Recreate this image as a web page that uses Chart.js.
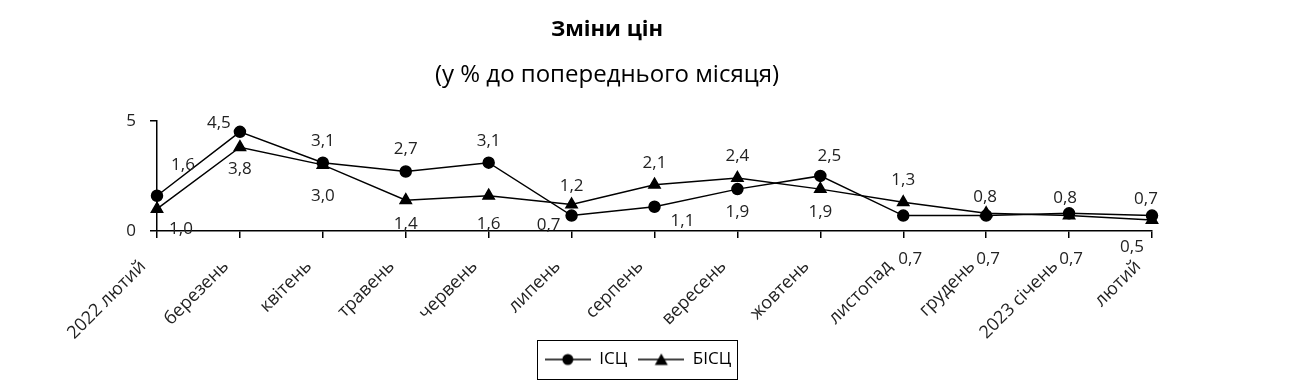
<!DOCTYPE html>
<html lang="uk">
<head>
<meta charset="UTF-8">
<title>Зміни цін</title>
<script src="https://cdn.jsdelivr.net/npm/chart.js"></script>
<style>
    body { margin: 0; background: #fff; }
    #wrap { width: 1293px; height: 392px; }
</style>
</head>
<body>
<div id="wrap"><canvas id="grafico" width="1293" height="392"></canvas></div>
<script>
    // dados
    const meses = ['2022 лютий', 'березень', 'квітень', 'травень', 'червень', 'липень', 'серпень',
        'вересень', 'жовтень', 'листопад', 'грудень', '2023 січень', 'лютий'];
    const isc = [1.6, 4.5, 3.1, 2.7, 3.1, 0.7, 1.1, 1.9, 2.5, 0.7, 0.7, 0.8, 0.7];
    const bisc = [1.0, 3.8, 3.0, 1.4, 1.6, 1.2, 2.1, 2.4, 1.9, 1.3, 0.8, 0.7, 0.5];
    const yTicks = [0, 5];

    // onde fica cada rotulo em relacao ao ponto (dx, dy)
    const posIsc = [[26, -31], [-21, -9], [0, -22], [0, -22], [0, -22], [-23, 10], [28, 14],
        [0, 23], [9, -20], [7, 44], [2, 44], [-4, -15], [-6, -16]];
    const posBisc = [[24, 20], [0, 22], [0, 31], [0, 24], [0, 28], [0, -18], [0, -22],
        [0, -22], [0, 23], [0, -22], [-1, -16], [2, 44], [-20, 27]];

    const fonte = '"Open Sans", "Noto Sans", sans-serif';
    const cor = '#222';
    const centroTitulo = 607;
    const centroLegenda = 638;

    function iconeLegenda(tipo) {
        const c = document.createElement('canvas');
        c.width = 46; c.height = 14;
        const g = c.getContext('2d');
        g.strokeStyle = '#000';
        g.fillStyle = '#000';
        g.lineWidth = 1.5;
        g.beginPath(); g.moveTo(0, 7); g.lineTo(46, 7); g.stroke();
        g.beginPath();
        if (tipo == 'circle') {
            g.arc(23, 7, 5.5, 0, Math.PI * 2);
        } else {
            g.moveTo(23, 1); g.lineTo(29.5, 12.5); g.lineTo(16.5, 12.5); g.closePath();
        }
        g.fill();
        return c;
    }
    const icones = [iconeLegenda('circle'), iconeLegenda('triangle')];

    const rotulos = {
        id: 'rotulos',
        afterDatasetsDraw(chart) {
            const ctx = chart.ctx;
            ctx.save();
            ctx.font = '17px ' + fonte;
            ctx.fillStyle = cor;
            ctx.textAlign = 'center';
            ctx.textBaseline = 'middle';
            const posicoes = [posIsc, posBisc];
            chart.data.datasets.forEach((ds, d) => {
                chart.getDatasetMeta(d).data.forEach((pt, i) => {
                    const p = posicoes[d][i];
                    const txt = ds.data[i].toFixed(1).replace('.', ',');
                    ctx.fillText(txt, pt.x + p[0], pt.y + p[1]);
                });
            });
            ctx.restore();
        }
    };

    // titulo e legenda nao ficam no centro do canvas no original
    const deslocar = {
        id: 'deslocar',
        afterUpdate(chart) {
            chart.boxes.forEach(b => {
                if (b === chart.legend) {
                    const d = centroLegenda - (b.left + b.right) / 2;
                    b.left += d; b.right += d;
                    b.legendHitBoxes.forEach(h => { h.left += d; });
                } else if (b.options && typeof b.options.text === 'string') {
                    const d = centroTitulo - (b.left + b.right) / 2;
                    b.left += d; b.right += d;
                }
            });
        }
    };

    const moldura = {
        id: 'moldura',
        afterDraw(chart) {
            const caixas = chart.legend.legendHitBoxes;
            if (!caixas || !caixas.length) return;
            let l = Infinity, r = -Infinity, t = Infinity, b = -Infinity;
            caixas.forEach(h => {
                l = Math.min(l, h.left); r = Math.max(r, h.left + h.width);
                t = Math.min(t, h.top); b = Math.max(b, h.top + h.height);
            });
            const ctx = chart.ctx;
            ctx.save();
            ctx.strokeStyle = '#000';
            ctx.lineWidth = 1;
            ctx.strokeRect(Math.round(l - 8) + 0.5, Math.round(t - 11) + 0.5, Math.round(r - l + 14), Math.round(b - t + 22));
            ctx.restore();
        }
    };

    new Chart(document.getElementById('grafico'), {
        type: 'line',
        data: {
            labels: meses,
            datasets: [{
                label: 'ІСЦ',
                data: isc,
                borderColor: '#000',
                backgroundColor: '#000',
                borderWidth: 1.5,
                pointStyle: 'circle',
                pointRadius: 5.5,
                pointHoverRadius: 5.5,
                tension: 0
            }, {
                label: 'БІСЦ',
                data: bisc,
                borderColor: '#000',
                backgroundColor: '#000',
                borderWidth: 1.5,
                pointStyle: 'triangle',
                pointRadius: 6.5,
                pointHoverRadius: 6.5,
                tension: 0
            }]
        },
        options: {
            responsive: false,
            animation: false,
            events: [],
            layout: { padding: { left: 0, right: 141, top: 0, bottom: 14 } },
            plugins: {
                title: {
                    display: true,
                    text: 'Зміни цін',
                    color: '#000',
                    font: { family: fonte, size: 22, weight: 'bold' },
                    padding: { top: 17, bottom: 17 }
                },
                subtitle: {
                    display: true,
                    text: '(у % до попереднього місяця)',
                    color: '#000',
                    font: { family: fonte, size: 24 },
                    padding: { top: 0, bottom: 31.6 }
                },
                legend: {
                    position: 'bottom',
                    labels: {
                        color: '#000',
                        font: { family: fonte, size: 17 },
                        usePointStyle: true,
                        pointStyleWidth: 46,
                        boxHeight: 14,
                        padding: 11,
                        generateLabels(chart) {
                            return chart.data.datasets.map((ds, i) => ({
                                text: ds.label,
                                pointStyle: icones[i],
                                fillStyle: '#000',
                                strokeStyle: '#000',
                                lineWidth: 0,
                                hidden: false,
                                datasetIndex: i,
                                fontColor: '#000'
                            }));
                        }
                    }
                },
                tooltip: { enabled: false }
            },
            scales: {
                x: {
                    offset: false,
                    afterFit(s) { s.height = 109; },
                    border: { color: '#000', width: 1.5 },
                    grid: { display: true, drawOnChartArea: false, color: '#000', lineWidth: 1.5, tickLength: 7 },
                    ticks: {
                        color: cor,
                        font: { family: fonte, size: 18 },
                        minRotation: 45,
                        maxRotation: 45,
                        autoSkip: false,
                        padding: 18,
                        labelOffset: -14
                    }
                },
                y: {
                    min: 0,
                    max: 5,
                    afterBuildTicks(s) { s.ticks = yTicks.map(v => ({ value: v })); },
                    afterFit(s) { s.width = 157; },
                    border: { color: '#000', width: 1.5 },
                    grid: { display: true, drawOnChartArea: false, color: '#000', lineWidth: 1.5, tickLength: 7 },
                    ticks: {
                        color: cor,
                        font: { family: fonte, size: 17 },
                        padding: 14
                    }
                }
            }
        },
        plugins: [rotulos, deslocar, moldura]
    });
</script>
</body>
</html>
